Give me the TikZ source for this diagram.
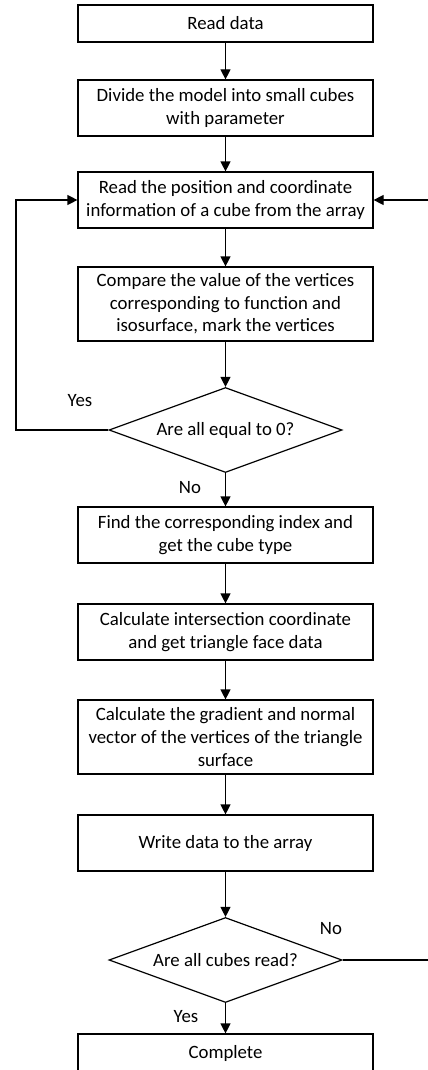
\documentclass[tikz,border=0pt]{standalone}
\usepackage{fontspec}
\setmainfont{Carlito}
\usetikzlibrary{shapes.geometric,arrows.meta}
\begin{document}
\begin{tikzpicture}
    [x=1pt, y=-1pt, line width=1.2pt,
     box/.style={draw, align=center, minimum width=295pt, inner sep=2pt,
       font=\fontsize{18.8}{22.6}\selectfont},
     test/.style={draw, diamond, aspect=2.7, inner sep=0pt,
       minimum width=233pt, minimum height=85pt,
       font=\fontsize{18.8}{22.6}\selectfont},
     lbl/.style={font=\fontsize{18.8}{22.6}\selectfont},
     go/.style={-{Triangle[length=10pt,width=10pt]}}]
    \useasboundingbox (0,0) rectangle (428,1070);
    \clip (0,0) rectangle (428,1070);
    \node[box, minimum height=37pt] (v1) at (225.5, 23.5) {Read data};
    \node[box, minimum height=56pt] (v2) at (225.5, 108) {Divide the model into small cubes\\with parameter};
    \node[box, minimum height=56pt] (v3) at (225.5, 200) {Read the position and coordinate\\information of a cube from the array};
    \node[box, minimum height=74pt] (v4) at (225.5, 304) {Compare the value of the vertices\\corresponding to function and\\isosurface, mark the vertices};
    \node[test] (q1) at (225.5, 430) {Are all equal to 0?};
    \node[box, minimum height=56pt] (v5) at (225.5, 535) {Find the corresponding index and\\get the cube type};
    \node[box, minimum height=56pt] (v6) at (225.5, 632) {Calculate intersection coordinate\\and get triangle face data};
    \node[box, minimum height=74pt] (v7) at (225.5, 737) {Calculate the gradient and normal\\vector of the vertices of the triangle\\surface};
    \node[box, minimum height=56pt] (v8) at (225.5, 843) {Write data to the array};
    \node[test] (q2) at (225.5, 960) {Are all cubes read?};
    \node[box, minimum height=38pt] (v9) at (225.5, 1053) {Complete};
    \node[lbl] (yes1) at (80, 401) {Yes};
    \node[lbl] (no1) at (190, 488) {No};
    \node[lbl] (no2) at (331, 929) {No};
    \node[lbl] (yes2) at (186, 1017) {Yes};
    \coordinate (lft) at (16, 430);
    \coordinate (rgt) at (440, 960);
    \draw[go] (v1) -- (v2); \draw[go] (v2) -- (v3); \draw[go] (v3) -- (v4);
    \draw[go] (v4) -- (q1); \draw[go] (q1) -- (v5); \draw[go] (v5) -- (v6);
    \draw[go] (v6) -- (v7); \draw[go] (v7) -- (v8); \draw[go] (v8) -- (q2);
    \draw[go] (q2) -- (v9);
    \draw[go] (q1.west) -- (lft) |- (v3.west);
    \draw[go] (q2.east) -- (rgt) |- (v3.east);
\end{tikzpicture}
\end{document}
